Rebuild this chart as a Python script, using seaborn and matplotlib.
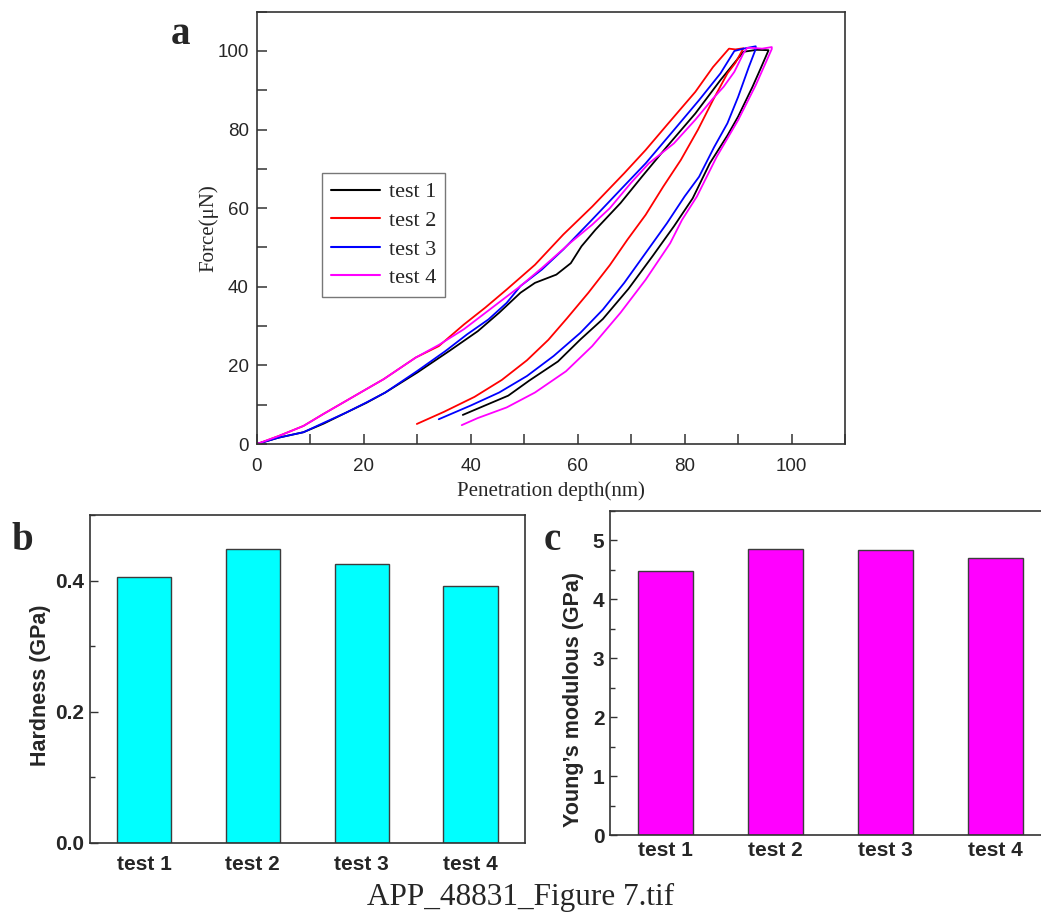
import numpy as np
import pandas as pd
import matplotlib
matplotlib.use("Agg")
import matplotlib.pyplot as plt
from matplotlib.ticker import MultipleLocator
import seaborn as sns

# ---------------- data ----------------
tests = ["test 1", "test 2", "test 3", "test 4"]
hardness = [0.405, 0.448, 0.425, 0.392]          # GPa
modulus = [4.48, 4.85, 4.84, 4.71]               # GPa

# load-displacement curves: depth (nm), force (uN)
t1_depth = [0, 4, 8.7, 12.5, 16.7, 20.5, 24, 30, 36, 41.3, 45.3, 49.3, 52, 56, 58.7, 60.7, 63.3, 68, 72, 76.7, 82, 86.7, 91,
            93.5, 95.7, 94.2, 92.7, 90, 88, 84.7, 81.5, 78, 74, 69.5, 64.7, 60.5, 56.3, 51, 47, 43, 38.5]
t1_force = [0, 1.6, 3.0, 5.2, 8.0, 10.5, 13.1, 18.2, 23.7, 28.7, 33.4, 38.5, 41, 43.1, 46, 50.3, 54.5, 61.3, 68, 75.7, 84.1, 92.6, 99.8,
            100.3, 100.2, 95.5, 90.9, 83.3, 78.5, 71.4, 62.5, 55.4, 47.8, 39.5, 31.8, 26.6, 21, 16.2, 12.3, 10, 7.4]

t2_depth = [0, 4, 8.7, 12.5, 16.7, 20, 23.7, 29.7, 34, 38.7, 42.7, 46.7, 52, 57.3, 62.7, 68.7, 72.7, 76.7, 82, 85.3, 88.3,
            89.5, 91, 89.5, 88, 85.3, 82.5, 79.3, 76, 72.7, 69.3, 66, 62, 58, 54.5, 50.5, 45.8, 40.7, 35, 29.9]
t2_force = [0, 2, 4.6, 7.7, 11.0, 13.6, 16.5, 22.0, 24.9, 30.4, 34.7, 39.3, 45.6, 53.3, 60.4, 68.9, 74.8, 81.2, 89.6, 95.9, 100.6,
            100.4, 100.7, 97, 94.3, 87.5, 80, 72.3, 65.5, 58.3, 52, 45.5, 38.5, 32, 26.5, 21.3, 16.3, 12, 8.2, 5.1]

t3_depth = [0, 4, 8.7, 12.5, 16.7, 20.5, 24, 30, 35.3, 39.3, 43.3, 46.7, 49.3, 53.3, 57.3, 62.7, 68, 72.7, 78, 82.7, 86.7, 89.3,
            91, 93.3, 93.3, 92, 90, 88, 85.5, 82.7, 80, 76.7, 72.7, 68.7, 64.7, 60.5, 55.5, 50.5, 45.3, 40, 34]
t3_force = [0, 1.6, 3.0, 5.4, 8.0, 10.6, 13.1, 18.6, 23.7, 27.9, 31.7, 35.9, 40.2, 44.4, 49.5, 57.1, 64.7, 71.4, 79.9, 87.5, 94.3, 100,
            100.6, 101.2, 100.5, 95.9, 88.3, 81.6, 75.5, 68, 63, 56.2, 48.6, 41, 34.2, 28.3, 22.4, 17.3, 13.1, 9.8, 6.3]

t4_depth = [0, 4, 8.7, 12.5, 16.7, 20, 23.7, 29.7, 34, 38.7, 44, 49.3, 53.3, 58.7, 62.7, 66, 70, 73.3, 78, 82, 85.3, 87.3, 89.3, 91, 91.7,
            92.5, 94.5, 96.3, 96.3, 95, 93.3, 90, 86, 82.3, 79.5, 77.3, 72.7, 68, 62.7, 57.8, 52, 46.7, 41.3, 38.3]
t4_force = [0, 2, 4.6, 7.7, 11.0, 13.6, 16.5, 22.0, 25.2, 29.2, 34.7, 40.2, 44.8, 51.3, 55.8, 60, 66.5, 71.4, 76.5, 82.5, 87.9, 90.9, 94.7, 99.4, 100.8,
            100.8, 100.6, 101, 100.5, 96.5, 91.3, 82.4, 73.1, 63, 57, 51.1, 41.8, 33.4, 24.9, 18.5, 13.1, 9.3, 6.6, 4.8]

curve_colors = {"test 1": "#000000", "test 2": "#FF0000", "test 3": "#0000FF", "test 4": "#FF00FF"}

# ---------------- style ----------------
sns.set_style("white")
plt.rcParams["font.family"] = ["Liberation Sans", "DejaVu Sans"]
plt.rcParams["axes.edgecolor"] = "#333333"
plt.rcParams["axes.linewidth"] = 1.2

W, H = 1041, 921
fig = plt.figure(figsize=(W / 100, H / 100), dpi=100)
fig.patch.set_facecolor("white")


def box(l, t, r, b):
    return [l / W, 1 - b / H, (r - l) / W, (b - t) / H]


ax_a = fig.add_axes(box(257, 11.7, 845, 444))
ax_b = fig.add_axes(box(89.6, 515.2, 525, 842.5))
ax_c = fig.add_axes(box(610, 511, 1050, 835))

# ---------------- panel a ----------------
frames = []
for name, d, f in [("test 1", t1_depth, t1_force), ("test 2", t2_depth, t2_force),
                   ("test 3", t3_depth, t3_force), ("test 4", t4_depth, t4_force)]:
    frames.append(pd.DataFrame({"depth": d, "force": f, "test": name}))
curves = pd.concat(frames, ignore_index=True)

sns.lineplot(data=curves, x="depth", y="force", hue="test", palette=curve_colors,
             sort=False, estimator=None, linewidth=1.3, ax=ax_a)
ax_a.set_xlim(0, 110)
ax_a.set_ylim(0, 110)
ax_a.set_xticks([0, 20, 40, 60, 80, 100])
ax_a.set_yticks([0, 20, 40, 60, 80, 100])
ax_a.xaxis.set_minor_locator(MultipleLocator(10))
ax_a.yaxis.set_minor_locator(MultipleLocator(10))
ax_a.tick_params(which="both", direction="in", length=7, width=1.1, color="#333333",
                 labelsize=13.5, bottom=True, left=True, top=False, right=False)
ax_a.tick_params(axis="x", which="major", pad=10)
ax_a.tick_params(axis="y", which="major", pad=6)
ax_a.set_xlabel("Penetration depth(nm)", family="Liberation Serif", fontsize=15)
ax_a.set_ylabel("Force(μN)", family="Liberation Serif", fontsize=15)
ax_a.xaxis.set_label_coords(0.5, -0.087)
ax_a.yaxis.set_label_coords(-0.065, 0.5)
handles, labels = ax_a.get_legend_handles_labels()
leg = ax_a.legend(handles, labels, loc="upper left", bbox_to_anchor=(0.1105, 0.627),
                  borderaxespad=0, frameon=True, fancybox=False, edgecolor="#555555",
                  prop={"family": "Liberation Serif", "size": 16}, handlelength=2.2,
                  handletextpad=0.4, labelspacing=0.36, borderpad=0.4)
leg.get_frame().set_linewidth(1.0)
for ln in leg.get_lines():
    ln.set_linewidth(1.5)

# ---------------- panel b ----------------
sns.barplot(x=tests, y=hardness, color="#00FFFF", saturation=1, width=0.5,
            edgecolor="#3c3c3c", linewidth=1.0, ax=ax_b)
ax_b.set_xlim(-0.5, 3.5)
ax_b.set_ylim(0, 0.5)
ax_b.set_yticks([0.0, 0.2, 0.4])
ax_b.set_yticklabels(["0.0", "0.2", "0.4"])
ax_b.yaxis.set_minor_locator(MultipleLocator(0.1))
ax_b.tick_params(axis="y", which="major", direction="in", length=6, width=1.0, labelsize=15, pad=4,
                 left=True, color="#333333")
ax_b.tick_params(axis="y", which="minor", direction="in", length=3.5, width=1.0, left=True, color="#333333")
ax_b.tick_params(axis="x", length=0, labelsize=15, pad=9)
for lab in ax_b.get_xticklabels() + ax_b.get_yticklabels():
    lab.set_fontweight("bold")
ax_b.set_ylabel("Hardness (GPa)", fontsize=15.5, fontweight="bold")
ax_b.yaxis.set_label_coords(-0.089, 0.481)

# ---------------- panel c ----------------
sns.barplot(x=tests, y=modulus, color="#FF00FF", saturation=1, width=0.5,
            edgecolor="#3c3c3c", linewidth=1.0, ax=ax_c)
ax_c.set_xlim(-0.5, 3.5)
ax_c.set_ylim(0, 5.5)
ax_c.set_yticks([0, 1, 2, 3, 4, 5])
ax_c.yaxis.set_minor_locator(MultipleLocator(0.5))
ax_c.tick_params(axis="y", which="major", direction="in", length=5, width=1.0, labelsize=15, pad=4,
                 left=True, color="#333333")
ax_c.tick_params(axis="y", which="minor", direction="in", length=3.5, width=1.0, left=True, color="#333333")
ax_c.tick_params(axis="x", length=0, labelsize=15, pad=4)
for lab in ax_c.get_xticklabels() + ax_c.get_yticklabels():
    lab.set_fontweight("bold")
ax_c.set_ylabel("Young’s modulous (GPa)", fontsize=15.5, fontweight="bold")
ax_c.yaxis.set_label_coords(-0.059, 0.417)

# ---------------- panel letters and caption ----------------
fig.text(180 / W, 1 - 34 / H, "a", family="Liberation Serif", fontweight="bold", fontsize=28, ha="center", va="center")
fig.text(22 / W, 1 - 540 / H, "b", family="Liberation Serif", fontweight="bold", fontsize=28, ha="center", va="center")
fig.text(552 / W, 1 - 540 / H, "c", family="Liberation Serif", fontweight="bold", fontsize=28, ha="center", va="center")
fig.text(521 / W, 1 - 897 / H, "APP_48831_Figure 7.tif", family="Liberation Serif", fontsize=22.5,
         ha="center", va="center")

fig.savefig("out.png", dpi=100, facecolor="white")
